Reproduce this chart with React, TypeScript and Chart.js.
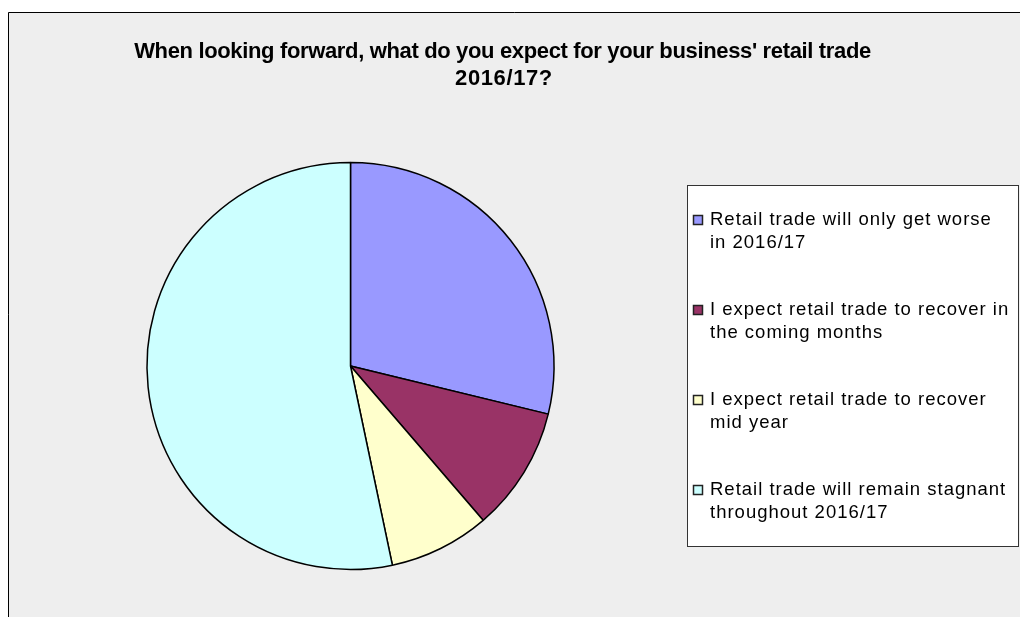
import React, { useEffect, useRef } from "react";
import { Chart, registerables } from "chart.js";

Chart.register(...registerables);

const titleLines = [
  "When looking forward, what do you expect for your business' retail trade",
  "2016/17?",
];
const categories = [
  ["Retail trade will only get worse", "in 2016/17"],
  ["I expect retail trade to recover in", "the coming months"],
  ["I expect retail trade to recover", "mid year"],
  ["Retail trade will remain stagnant", "throughout 2016/17"],
];
const shares = [28.8, 9.9, 8.0, 53.3];
const colors = ["#9999FF", "#993366", "#FFFFCC", "#CCFFFF"];

const W = 1012;
const H = 605;

const framePlugin = {
  id: "frameAndText",
  beforeDraw(chart: any) {
    const ctx = chart.ctx as CanvasRenderingContext2D;
    ctx.save();
    ctx.fillStyle = "#eeeeee";
    ctx.fillRect(0, 0, W, H);
    ctx.strokeStyle = "#000000";
    ctx.lineWidth = 1;
    ctx.beginPath();
    ctx.moveTo(0.5, H);
    ctx.lineTo(0.5, 0.5);
    ctx.lineTo(W, 0.5);
    ctx.stroke();
    ctx.restore();
  },
  afterDraw(chart: any) {
    const ctx = chart.ctx as CanvasRenderingContext2D;
    ctx.save();
    // title
    ctx.fillStyle = "#000000";
    ctx.textAlign = "center";
    ctx.textBaseline = "alphabetic";
    ctx.font = "bold 22px 'Liberation Sans', Arial, sans-serif";
    (ctx as any).letterSpacing = "-0.35px";
    ctx.fillText(titleLines[0], 494.5, 45.7);
    (ctx as any).letterSpacing = "0.6px";
    ctx.fillText(titleLines[1], 496, 72.5);
    (ctx as any).letterSpacing = "0px";

    // legend box
    const bx = 679.5, by = 173.5, bw = 331, bh = 361;
    ctx.fillStyle = "#ffffff";
    ctx.fillRect(bx, by, bw, bh);
    ctx.strokeStyle = "#333333";
    ctx.lineWidth = 1;
    ctx.strokeRect(bx, by, bw, bh);

    const labels = chart.data.labels as string[][];
    const bg = chart.data.datasets[0].backgroundColor as string[];
    ctx.font = "18.5px 'Liberation Sans', Arial, sans-serif";
    (ctx as any).letterSpacing = "1px";
    ctx.textAlign = "left";
    ctx.textBaseline = "middle";
    labels.forEach((lines, i) => {
      const cy = 208 + i * 90;
      ctx.fillStyle = bg[i];
      ctx.fillRect(685.5, cy - 4.5, 9, 9);
      ctx.strokeStyle = "#222222";
      ctx.lineWidth = 1.5;
      ctx.strokeRect(685.5, cy - 4.5, 9, 9);
      ctx.fillStyle = "#000000";
      lines.forEach((t, j) => {
        ctx.fillText(t, 702, cy + j * 23);
      });
    });
    (ctx as any).letterSpacing = "0px";
    ctx.restore();
  },
};

export default function App() {
  const ref = useRef<HTMLCanvasElement | null>(null);
  useEffect(() => {
    if (!ref.current) return;
    const chart = new Chart(ref.current, {
      type: "pie",
      data: {
        labels: categories as any,
        datasets: [
          {
            data: shares,
            backgroundColor: colors,
            borderColor: "#000000",
            borderWidth: 1.5,
          },
        ],
      },
      options: {
        animation: false,
        responsive: false,
        devicePixelRatio: 1,
        radius: 203.5,
        layout: { padding: { left: 130, right: 457, top: 140, bottom: 37 } },
        plugins: {
          legend: { display: false },
          title: { display: false },
          tooltip: { enabled: false },
        },
        events: [],
      } as any,
      plugins: [framePlugin],
    });
    return () => chart.destroy();
  }, []);
  return (
    <div style={{ position: "fixed", left: 8, top: 12, width: W, height: H }}>
      <canvas ref={ref} width={W} height={H} style={{ width: W, height: H, display: "block" }} />
    </div>
  );
}
